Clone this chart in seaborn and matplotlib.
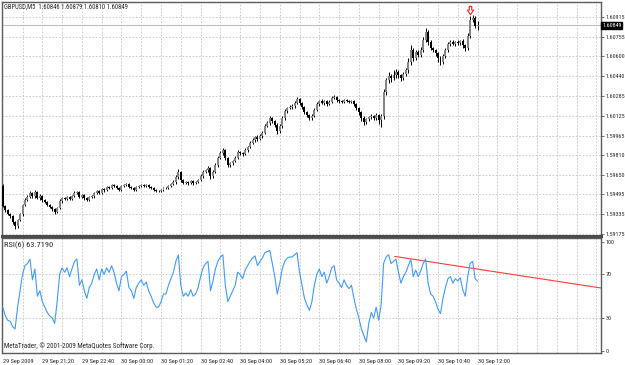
import matplotlib
matplotlib.use("Agg")
import matplotlib.pyplot as plt
from matplotlib import font_manager
from matplotlib.path import Path
import numpy as np
import seaborn as sns

sns.set_style("white")
plt.rcParams['font.family'] = ['DejaVu Sans']

# GBPUSD M5, 29 Sep 2009 20:00 -> 30 Sep 12:00 (one bar every 5 minutes)
first_open = 1.59560
close = [
    1.59402, 1.59370, 1.59338, 1.59322, 1.59274, 1.59242, 1.59290, 1.59338, 1.59410, 1.59450,
    1.59474, 1.59506, 1.59482, 1.59514, 1.59466, 1.59482, 1.59450, 1.59434, 1.59410, 1.59394,
    1.59378, 1.59354, 1.59386, 1.59442, 1.59466, 1.59458, 1.59474, 1.59458, 1.59482, 1.59506,
    1.59514, 1.59474, 1.59490, 1.59466, 1.59450, 1.59474, 1.59482, 1.59506, 1.59522, 1.59506,
    1.59538, 1.59530, 1.59554, 1.59546, 1.59570, 1.59562, 1.59546, 1.59530, 1.59562, 1.59570,
    1.59578, 1.59554, 1.59546, 1.59530, 1.59554, 1.59562, 1.59570, 1.59562, 1.59570, 1.59554,
    1.59546, 1.59530, 1.59522, 1.59522, 1.59530, 1.59546, 1.59546, 1.59562, 1.59578, 1.59594,
    1.59634, 1.59674, 1.59610, 1.59586, 1.59594, 1.59586, 1.59602, 1.59586, 1.59594, 1.59610,
    1.59642, 1.59674, 1.59690, 1.59706, 1.59642, 1.59674, 1.59730, 1.59786, 1.59826, 1.59850,
    1.59786, 1.59730, 1.59746, 1.59762, 1.59786, 1.59834, 1.59826, 1.59818, 1.59850, 1.59874,
    1.59906, 1.59930, 1.59954, 1.59938, 1.59962, 1.59986, 1.60042, 1.60066, 1.60106, 1.60082,
    1.60050, 1.60002, 1.60042, 1.60106, 1.60162, 1.60186, 1.60194, 1.60202, 1.60226, 1.60258,
    1.60226, 1.60194, 1.60154, 1.60130, 1.60106, 1.60122, 1.60170, 1.60218, 1.60242, 1.60226,
    1.60242, 1.60218, 1.60234, 1.60266, 1.60274, 1.60250, 1.60242, 1.60234, 1.60250, 1.60242,
    1.60234, 1.60242, 1.60218, 1.60186, 1.60154, 1.60106, 1.60074, 1.60098, 1.60114, 1.60122,
    1.60106, 1.60130, 1.60090, 1.60122, 1.60314, 1.60410, 1.60442, 1.60426, 1.60450, 1.60474,
    1.60450, 1.60426, 1.60458, 1.60490, 1.60554, 1.60650, 1.60586, 1.60634, 1.60610, 1.60650,
    1.60730, 1.60794, 1.60714, 1.60666, 1.60650, 1.60626, 1.60586, 1.60554, 1.60602, 1.60650,
    1.60698, 1.60714, 1.60698, 1.60714, 1.60706, 1.60722, 1.60690, 1.60666, 1.60762, 1.60890,
    1.60905, 1.60846, 1.60849,
]
# wick lengths in points (0.00001)
up_wick = [
    20, 8, 10, 8, 10, 8, 12, 10, 12, 16,
    14, 16, 10, 14, 12, 16, 10, 8, 10, 8,
    8, 10, 12, 14, 10, 12, 10, 8, 12, 14,
    12, 10, 8, 10, 8, 10, 12, 10, 12, 8,
    12, 10, 12, 8, 12, 10, 8, 10, 12, 10,
    12, 8, 10, 8, 10, 12, 10, 8, 10, 8,
    8, 10, 8, 10, 12, 10, 8, 12, 10, 14,
    20, 24, 12, 10, 8, 10, 12, 8, 10, 12,
    14, 16, 12, 14, 10, 14, 16, 14, 16, 20,
    12, 10, 12, 10, 14, 16, 10, 12, 14, 12,
    14, 16, 12, 14, 16, 20, 16, 20, 14, 10,
    12, 14, 18, 16, 14, 12, 14, 16, 18, 20,
    12, 10, 8, 10, 12, 16, 14, 16, 12, 14,
    12, 10, 16, 18, 14, 10, 12, 10, 12, 10,
    10, 8, 10, 8, 10, 12, 14, 12, 10, 16,
    12, 14, 10, 16, 24, 20, 30, 16, 40, 24,
    14, 12, 20, 18, 30, 40, 16, 20, 14, 24,
    28, 36, 16, 14, 12, 10, 12, 16, 18, 20,
    16, 14, 16, 12, 14, 12, 16, 12, 24, 30,
    24, 20, 30,
]
dn_wick = [
    10, 12, 10, 14, 16, 24, 12, 10, 14, 10,
    12, 10, 12, 14, 10, 12, 14, 10, 12, 10,
    12, 14, 10, 12, 14, 10, 12, 10, 12, 10,
    8, 12, 10, 12, 10, 8, 10, 12, 8, 10,
    10, 12, 8, 10, 8, 10, 12, 10, 8, 10,
    8, 10, 12, 10, 8, 10, 8, 12, 10, 10,
    12, 10, 12, 10, 8, 10, 12, 8, 10, 10,
    12, 14, 16, 12, 10, 14, 10, 16, 12, 10,
    12, 14, 10, 12, 20, 14, 12, 14, 12, 14,
    16, 14, 12, 14, 12, 10, 12, 14, 10, 12,
    12, 10, 14, 12, 10, 14, 12, 10, 14, 16,
    18, 20, 12, 14, 12, 16, 12, 14, 12, 10,
    14, 16, 14, 12, 16, 14, 12, 10, 12, 10,
    12, 14, 10, 12, 10, 14, 12, 10, 12, 10,
    12, 10, 14, 16, 20, 24, 26, 18, 16, 14,
    18, 16, 30, 56, 24, 20, 24, 30, 18, 22,
    24, 20, 18, 16, 20, 24, 20, 18, 16, 14,
    16, 18, 20, 16, 18, 22, 28, 24, 16, 14,
    16, 14, 12, 16, 14, 18, 22, 20, 16, 14,
    18, 16, 36,
]
rsi = [
    40, 32, 28, 27, 22, 20, 40, 55, 70, 78,
    80, 84, 65, 75, 50, 55, 45, 40, 35, 32,
    30, 25, 45, 70, 76, 72, 76, 68, 75, 82,
    84, 60, 65, 55, 48, 58, 62, 70, 75, 65,
    75, 70, 76, 72, 78, 72, 62, 55, 68, 70,
    73, 58, 55, 48, 58, 62, 65, 60, 63, 55,
    50, 44, 40, 40, 45, 52, 52, 60, 66, 72,
    82, 88, 60, 50, 53, 50, 56, 50, 52, 58,
    68, 76, 80, 82, 55, 64, 75, 82, 86, 88,
    60, 45, 50, 55, 60, 72, 70, 66, 74, 78,
    82, 85, 87, 78, 82, 85, 90, 91, 92, 80,
    68, 52, 62, 75, 82, 85, 86, 86, 88, 90,
    72, 60, 48, 42, 37, 45, 60, 70, 75, 68,
    72, 62, 68, 76, 78, 65, 62, 58, 65, 60,
    57, 60, 48, 38, 30, 20, 14, 8, 25, 35,
    30, 40, 28, 42, 80, 86, 88, 80, 82, 84,
    72, 62, 68, 72, 78, 84, 68, 74, 68, 73,
    80, 84, 62, 52, 50, 45, 38, 34, 48, 58,
    66, 68, 62, 66, 64, 67, 56, 50, 68, 80,
    82, 66, 63.719,
]

price_ticks = [1.60915, 1.60755, 1.60600, 1.60440, 1.60285, 1.60125,
               1.59965, 1.59810, 1.59650, 1.59495, 1.59335, 1.59175]
rsi_ticks = [100, 70, 30, 0]
time_labels = ["29 Sep 2009", "29 Sep 21:20", "29 Sep 22:40", "30 Sep 00:00",
               "30 Sep 01:20", "30 Sep 02:40", "30 Sep 04:00", "30 Sep 05:20",
               "30 Sep 06:40", "30 Sep 08:00", "30 Sep 09:20", "30 Sep 10:40",
               "30 Sep 12:00"]
bid = 1.60849
arrow_bar, arrow_price = 189, 1.60970
trend_x, trend_y = [158.5, 242.0], [86.5, 57.5]

close = np.array(close)
opens = np.concatenate([[first_open], close[:-1]])
high = np.maximum(opens, close) + np.array(up_wick) * 1e-5
low = np.minimum(opens, close) - np.array(dn_wick) * 1e-5
bars = np.arange(len(close))

W, H = 625, 365
fig = plt.figure(figsize=(W / 100, H / 100), dpi=100)
renderer = fig.canvas.get_renderer()

# narrow font, like the terminal's bitmap font, if one is installed
narrow = ['Liberation Sans Narrow', 'DejaVu Sans Condensed', 'Roboto Condensed',
          'Open Sans Condensed', 'Noto Sans Condensed']
font_file = None
for name in narrow:
    for f in font_manager.fontManager.ttflist:
        if f.name == name and f.style == 'normal' and f.weight in (400, 'normal', 'regular'):
            font_file = f.fname
            break
    if font_file:
        break
if font_file is None:
    for f in font_manager.fontManager.ttflist:
        if f.name in ('Noto Sans', 'DejaVu Sans') and 'condensed' in str(f.stretch) \
                and f.style == 'normal' and f.weight in (400, 'normal', 'regular'):
            font_file = f.fname
            break


def font(sample, width_px):
    fp = font_manager.FontProperties(fname=font_file) if font_file else font_manager.FontProperties(family='DejaVu Sans')
    fp.set_size(10)
    t = fig.text(0, 0, sample, fontproperties=fp)
    w = t.get_window_extent(renderer).width
    t.remove()
    fp.set_size(10 * width_px / w)
    return fp


fp_price = font("1.60915", 19)
fp_time = font("30 Sep 12:00", 32)
fp_title = font("GBPUSD,M5  1.60846 1.60879 1.60810 1.60849", 124)
fp_rsi = font("RSI(6) 63.7190", 49)
fp_copy = font("MetaTrader, \u00a9 2001-2009 MetaQuotes Software Corp.", 148)

ax = fig.add_axes([2 / W, 1 - 236 / H, 599 / W, 234 / H])
ax2 = fig.add_axes([2 / W, 1 - 353 / H, 599 / W, 115 / H])

frame = '#5a5a5a'
grid_kw = dict(color='#c4c4c4', lw=0.6, linestyle=(0, (2, 2)))
xmax = 241.9
for a in (ax, ax2):
    a.set_xlim(-0.3, xmax)
    for s in a.spines.values():
        s.set_color(frame)
        s.set_linewidth(1)
    for g in range(8, int(xmax), 8):
        a.axvline(g, zorder=0, **grid_kw)
ax.spines['bottom'].set_linewidth(2.2)
ax.spines['bottom'].set_color('#4a4a4a')

# price panel
ax.set_ylim(1.59162, 1.61034)
for p in price_ticks:
    ax.axhline(p, zorder=0, **grid_kw)
ax.axhline(bid, color='#c0c0c0', lw=0.8, zorder=0.5)
ax.vlines(bars, low, high, color='black', lw=0.7, zorder=2)
body_col = np.where(close >= opens, '#858585', '#000000')
body_h = np.where(np.abs(close - opens) < 1e-5, 1e-5, close - opens)
ax.bar(bars, body_h, bottom=opens, width=0.8, color=body_col, lw=0, zorder=3)

arrow = Path([(-0.3, 1), (0.3, 1), (0.3, 0.1), (0.75, 0.1), (0, -1),
              (-0.75, 0.1), (-0.3, 0.1), (-0.3, 1)], closed=True)
ax.plot([arrow_bar], [arrow_price], marker=arrow, ms=6, mfc='white',
        mec='#ff2020', mew=0.8, ls='none', zorder=4)

ax.yaxis.tick_right()
ax.set_yticks(price_ticks)
ax.set_yticklabels([f"{p:.5f}" for p in price_ticks], fontproperties=fp_price)
ax.tick_params(axis='y', length=2.5, width=0.6, color=frame, pad=0.8)
ax.set_xticks([])
ax.text(1.002, bid, f"{bid:.5f}", transform=ax.get_yaxis_transform(),
        fontproperties=fp_price, color='white', va='center', ha='left',
        bbox=dict(boxstyle='square,pad=0.15', fc='black', ec='black'))

# RSI panel
ax2.set_ylim(-2.1, 103.4)
for r in (70, 30):
    ax2.axhline(r, zorder=0, **grid_kw)
sns.lineplot(x=bars, y=rsi, ax=ax2, color='#3d9bff', lw=0.8, zorder=3)
ax2.plot(trend_x, trend_y, color='#ff3a3a', lw=0.8, zorder=2)
ax2.yaxis.tick_right()
ax2.set_yticks(rsi_ticks)
ax2.set_yticklabels([str(r) for r in rsi_ticks], fontproperties=fp_price)
ax2.tick_params(axis='y', length=2.5, width=0.6, color=frame, pad=0.8)
ax2.set_xticks(np.arange(len(time_labels)) * 16)
ax2.set_xticklabels(time_labels, ha='left', fontproperties=fp_time)
ax2.tick_params(axis='x', length=3, width=0.6, color=frame, pad=1)
ax2.set_xlabel('')
ax2.set_ylabel('')

fig.text(4 / W, 1 - 7 / H, "GBPUSD,M5  1.60846 1.60879 1.60810 1.60849",
         fontproperties=fp_title, va='center', ha='left')
fig.text(4 / W, 1 - 245 / H, "RSI(6) 63.7190", fontproperties=fp_rsi, va='center', ha='left')
fig.text(4 / W, 1 - 346 / H, "MetaTrader, \u00a9 2001-2009 MetaQuotes Software Corp.",
         fontproperties=fp_copy, va='center', ha='left')

fig.savefig("out.png", dpi=100)
